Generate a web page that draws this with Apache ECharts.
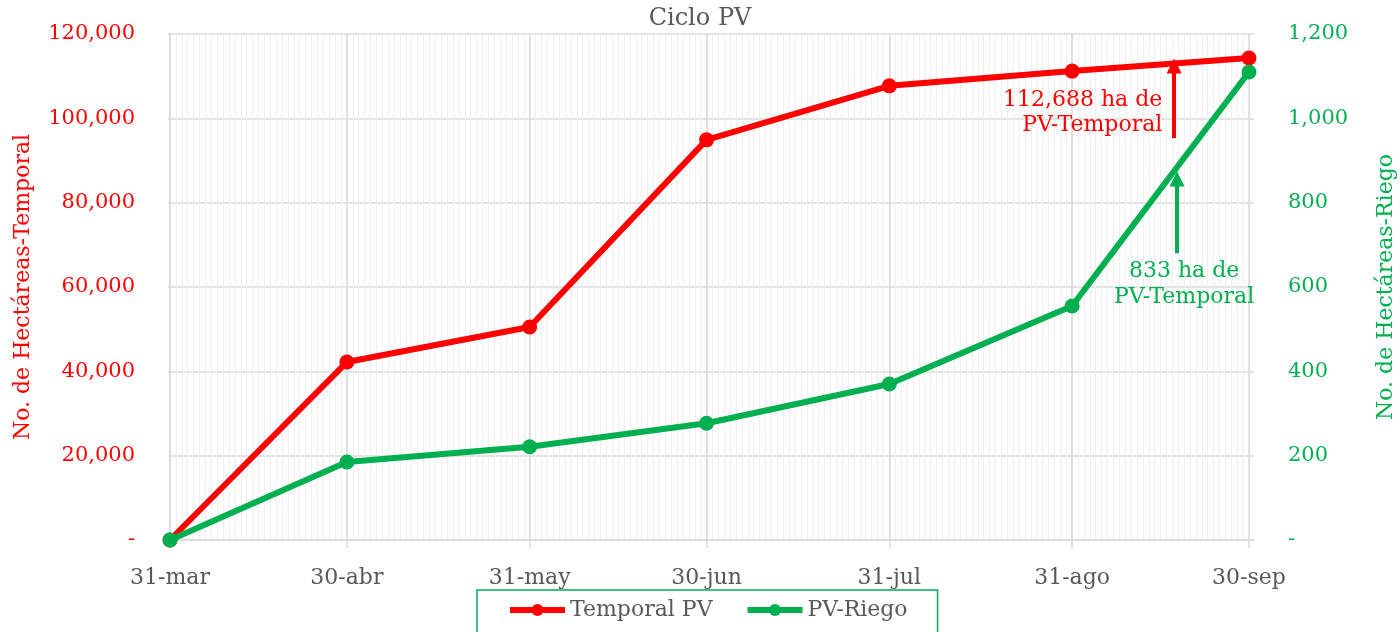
<!DOCTYPE html>
<html>
<head>
<meta charset="utf-8">
<script src="https://cdn.jsdelivr.net/npm/echarts@6/dist/echarts.min.js"></script>
<style>html,body{margin:0;padding:0;background:#fff}#c{width:1400px;height:632px}</style>
</head>
<body>
<div id="c"></div>
<script>
const categories = ['31-mar', '30-abr', '31-may', '30-jun', '31-jul', '31-ago', '30-sep'];
const dayOffsets = [0, 30, 61, 91, 122, 153, 183];
const temporal = [0, 42200, 50500, 94900, 107700, 111200, 114300];
const riego = [0, 185, 221, 277, 370, 555, 1110];
const leftTicks = [0, 20000, 40000, 60000, 80000, 100000, 120000];
const rightTicks = [0, 200, 400, 600, 800, 1000, 1200];
const redArrow = [[170.3, 95300], [170.3, 112400]];
const greenArrow = [[170.8, 680], [170.8, 856]];
const redNote = { coord: [168.3, 101300], text: '112,688 ha de\nPV-Temporal' };
const greenNote = { coord: [172.0, 607], text: '833 ha de\nPV-Temporal' };

const FONT = 'DejaVu Serif';
const RED = '#FF0000', GREEN = '#00B050', GRAY = '#595959', GRID = '#d9d9d9';
const minorDays = [];
for (let d = 0; d <= 183; d++) minorDays.push(d);

const fmt = v => v === 0 ? '-' : v.toLocaleString('en-US');

const chart = echarts.init(document.getElementById('c'));
chart.setOption({
  animation: false,
  textStyle: { fontFamily: FONT },
  title: { text: 'Ciclo PV', left: 'center', top: 2, textStyle: { fontFamily: FONT, fontSize: 24, fontWeight: 'normal', color: GRAY } },
  grid: { left: 168, right: 146, top: 34, bottom: 92, outerBoundsMode: 'none', containLabel: false },
  legend: {
    left: 477, top: 590,
    padding: [9, 30, 40, 30],
    borderColor: GREEN, borderWidth: 1.5,
    itemWidth: 55, itemHeight: 15, itemGap: 32,
    lineStyle: { width: 6 },
    textStyle: { fontFamily: FONT, fontSize: 22, color: GRAY },
    data: ['Temporal PV', 'PV-Riego']
  },
  xAxis: [
    {
      type: 'value', min: -0.34, max: 183.85,
      axisLine: { show: true, lineStyle: { color: GRID, width: 1.5 } },
      axisTick: { show: true, length: 8, customValues: dayOffsets, lineStyle: { color: GRID, width: 1.5 } },
      axisLabel: { customValues: dayOffsets, margin: 27, fontFamily: FONT, fontSize: 22, color: GRAY,
        formatter: v => { const i = dayOffsets.indexOf(Math.round(v)); return i >= 0 ? categories[i] : ''; } },
      splitLine: { show: true, lineStyle: { color: GRID, width: 1.5 } },
      z: 3
    },
    {
      type: 'value', min: -0.34, max: 183.85, position: 'bottom',
      axisLine: { show: false },
      axisTick: { show: false, customValues: minorDays },
      axisLabel: { show: false, customValues: minorDays },
      splitLine: { show: true, lineStyle: { color: '#efefef', width: 1.2 } },
      z: 1
    }
  ],
  yAxis: [
    {
      type: 'value', min: 0, max: 120000, interval: 20000,
      name: 'No. de Hectáreas-Temporal', nameLocation: 'middle', nameGap: 134, nameRotate: 90,
      nameTextStyle: { fontFamily: FONT, fontSize: 22, color: RED },
      axisLine: { show: true, lineStyle: { color: GRID, width: 1.5 } },
      axisTick: { show: false },
      axisLabel: { margin: 33, fontFamily: FONT, fontSize: 21, color: RED, formatter: fmt },
      splitLine: { show: true, lineStyle: { color: GRID, width: 1.5 } }
    },
    {
      type: 'value', min: 0, max: 1200, interval: 200, position: 'right',
      name: 'No. de Hectáreas-Riego', nameLocation: 'middle', nameGap: 121, nameRotate: 90,
      nameTextStyle: { fontFamily: FONT, fontSize: 22, color: GREEN },
      axisLine: { show: true, lineStyle: { color: GRID, width: 1.5 } },
      axisTick: { show: false },
      axisLabel: { margin: 34, fontFamily: FONT, fontSize: 21, color: GREEN, formatter: fmt },
      splitLine: { show: false }
    }
  ],
  series: [
    {
      name: 'Temporal PV', type: 'line', xAxisIndex: 0, yAxisIndex: 0,
      data: dayOffsets.map((d, i) => [d, temporal[i]]),
      symbol: 'circle', symbolSize: 15,
      lineStyle: { color: RED, width: 6 }, itemStyle: { color: RED },
      z: 5,
      markLine: {
        silent: true, symbol: ['none', 'triangle'], symbolSize: [15, 15],
        lineStyle: { color: RED, width: 4, type: 'solid' }, label: { show: false },
        data: [[{ coord: redArrow[0] }, { coord: redArrow[1] }]]
      },
      markPoint: {
        silent: true, symbol: 'circle', symbolSize: 1, itemStyle: { color: 'rgba(0,0,0,0)' },
        label: { show: true, position: 'inside', align: 'right', verticalAlign: 'middle', lineHeight: 25,
          fontFamily: FONT, fontSize: 22, color: RED, formatter: redNote.text },
        data: [{ coord: redNote.coord }]
      }
    },
    {
      name: 'PV-Riego', type: 'line', xAxisIndex: 0, yAxisIndex: 1,
      data: dayOffsets.map((d, i) => [d, riego[i]]),
      symbol: 'circle', symbolSize: 15,
      lineStyle: { color: GREEN, width: 6 }, itemStyle: { color: GREEN },
      z: 6,
      markLine: {
        silent: true, symbol: ['none', 'triangle'], symbolSize: [15, 15],
        lineStyle: { color: GREEN, width: 4, type: 'solid' }, label: { show: false },
        data: [[{ coord: greenArrow[0] }, { coord: greenArrow[1] }]]
      },
      markPoint: {
        silent: true, symbol: 'circle', symbolSize: 1, itemStyle: { color: 'rgba(0,0,0,0)' },
        label: { show: true, position: 'inside', align: 'center', verticalAlign: 'middle', lineHeight: 26,
          fontFamily: FONT, fontSize: 22, color: GREEN, formatter: greenNote.text },
        data: [{ coord: greenNote.coord }]
      }
    }
  ]
});
</script>
</body>
</html>
